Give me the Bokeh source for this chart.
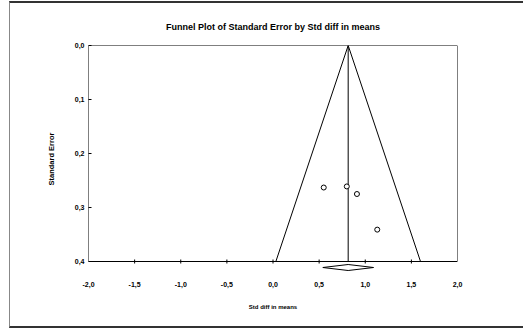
from bokeh.plotting import figure
from bokeh.models import Range1d, FixedTicker, CustomJSTickFormatter
from bokeh.embed import file_html
from bokeh.resources import INLINE

# Study effects (standardised mean difference) and their standard errors
std_diff = [0.55, 0.80, 0.91, 1.13]
std_err = [0.263, 0.261, 0.275, 0.341]

# Pooled estimate and its 95% confidence interval
pooled_mean = 0.815
pooled_lo = 0.54
pooled_hi = 1.09

x_ticks = [-2.0, -1.5, -1.0, -0.5, 0.0, 0.5, 1.0, 1.5, 2.0]
y_ticks = [0.0, 0.1, 0.2, 0.3, 0.4]

TITLE = "Funnel Plot of Standard Error by Std diff in means"
FONT = "Liberation Sans"
INK = "black"
comma = CustomJSTickFormatter(code="return tick.toFixed(1).replace('.', ',');")

se_max = y_ticks[-1]
px = 0.4 / 216.0  # data units per screen pixel on the y axis

p = figure(
    width=514, height=327,
    output_backend="svg", toolbar_location=None,
    x_range=Range1d(x_ticks[0], x_ticks[-1]),
    y_range=Range1d(se_max + 11 * px, y_ticks[0]),
    min_border_left=78, min_border_right=67,
    min_border_top=42, min_border_bottom=58,
    title=TITLE,
)
p.margin = (1, 0, 0, 9)
p.styles = {
    "border-top": "2px solid #333333",
    "border-bottom": "2px solid #333333",
    "border-left": "1px solid #888888",
}
p.grid.visible = False
p.outline_line_color = None
p.border_fill_color = "white"

p.title.text_font = FONT
p.title.text_font_size = "9px"
p.title.text_font_style = "bold"
p.title.text_color = INK
p.title.align = "center"
p.title.vertical_align = "top"
p.title.standoff = 24

xa = p.xaxis[0]
xa.ticker = FixedTicker(ticks=x_ticks)
xa.formatter = comma
xa.axis_line_color = None
xa.major_tick_line_color = None
xa.minor_tick_line_color = None
xa.major_label_standoff = 3
xa.major_label_text_font = FONT
xa.major_label_text_font_size = "7px"
xa.major_label_text_font_style = "bold"
xa.major_label_text_color = INK
xa.axis_label = "Std diff in means"
xa.axis_label_standoff = 14
xa.axis_label_text_font = FONT
xa.axis_label_text_font_size = "6px"
xa.axis_label_text_font_style = "bold"
xa.axis_label_text_color = INK

ya = p.yaxis[0]
ya.ticker = FixedTicker(ticks=y_ticks)
ya.formatter = comma
ya.axis_line_color = None
ya.major_tick_in = 3
ya.major_tick_out = 0
ya.major_tick_line_color = INK
ya.minor_tick_line_color = None
ya.major_label_standoff = 4
ya.major_label_text_font = FONT
ya.major_label_text_font_size = "7px"
ya.major_label_text_font_style = "bold"
ya.major_label_text_color = INK
ya.axis_label = "Standard Error"
ya.axis_label_standoff = 16
ya.axis_label_text_font = FONT
ya.axis_label_text_font_size = "7.5px"
ya.axis_label_text_font_style = "bold"
ya.axis_label_text_color = INK

# plot box
p.quad(left=x_ticks[0], right=x_ticks[-1], top=y_ticks[0], bottom=se_max,
       fill_color=None, line_color=INK, line_width=1)

# tick marks across the bottom edge
inner = x_ticks[1:-1]
p.segment(x0=inner, y0=[se_max - 2 * px] * len(inner),
          x1=inner, y1=[se_max + 2 * px] * len(inner),
          line_color=INK, line_width=1)

# funnel (95% limits) and pooled-effect line
p.line(x=[pooled_mean - 1.96 * se_max, pooled_mean, pooled_mean + 1.96 * se_max],
       y=[se_max, 0.0, se_max], line_color=INK, line_width=1)
p.segment(x0=[pooled_mean], y0=[0.0], x1=[pooled_mean], y1=[se_max],
          line_color=INK, line_width=1)

# studies
p.scatter(std_diff, std_err, marker="circle", size=5,
          fill_color="white", line_color=INK, line_width=1)

# pooled-effect diamond below the axis
yd = se_max + 6 * px
hd = 3 * px
p.patch(x=[pooled_lo, pooled_mean, pooled_hi, pooled_mean],
        y=[yd, yd - hd, yd, yd + hd],
        fill_color="white", line_color=INK, line_width=1)

open("out.html", "w").write(file_html(p, INLINE))
